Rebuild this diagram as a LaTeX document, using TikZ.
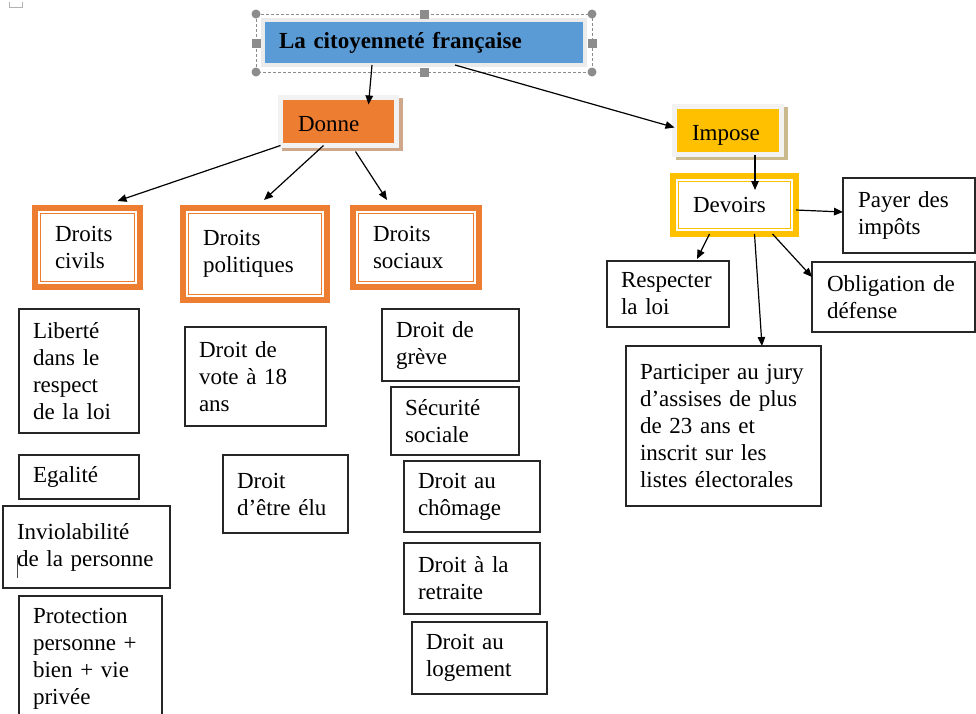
\documentclass[tikz,border=0pt]{standalone}
\usepackage{fontspec}
\setmainfont{Liberation Serif}
\usetikzlibrary{arrows.meta}
\definecolor{titleblue}{HTML}{5B9BD5}
\definecolor{titleframe}{HTML}{EBEBEB}
\definecolor{framegray}{HTML}{F2F2F2}
\definecolor{rightsorange}{HTML}{ED7D31}
\definecolor{dutygold}{HTML}{FFC000}
\definecolor{donneshadow}{HTML}{CFA88C}
\definecolor{imposeshadow}{HTML}{C9B98D}
\definecolor{handlegray}{HTML}{8C8C8C}
\tikzset{
    >={Triangle[length=9pt,width=7.5pt]},
    every node/.style={font=\fontsize{23pt}{27pt}\selectfont, anchor=north west, align=left, outer sep=0pt, inner ysep=0pt},
    plainbox/.style={draw=black!85, line width=1.3pt, fill=white, inner xsep=14pt},
    rightsbox/.style={draw=#1, line width=6.5pt, fill=white, inner xsep=20pt,
            path picture={
                    \draw[#1, line width=1.2pt] ([shift={(5.5pt,-5.5pt)}]path picture bounding box.north west)
                    rectangle ([shift={(-5.5pt,5.5pt)}]path picture bounding box.south east);
                }
        },
    verbbox/.style 2 args={fill=#1, draw=framegray, line width=5pt, inner xsep=17.5pt,
            text height=20pt, text depth=0pt,
            preaction={draw=#2, fill=#2, line width=5pt, transform canvas={shift={(3.5pt,-3pt)}}}
        },
    titlebox/.style={fill=titleblue, draw=titleframe, line width=4pt, inner xsep=16pt,
            font=\fontsize{23pt}{27pt}\selectfont\bfseries},
    link/.style={->, line width=1.2pt},
    selline/.style={draw=handlegray, line width=0.8pt, dash pattern=on 3pt off 2pt},
    handle/.style={fill=handlegray}
}

\begin{document}
\begin{tikzpicture}[x=1pt, y=-1pt]
    \clip (0,0) rectangle (976,713);
    %title with its selection frame
    \draw[selline] (256,14) rectangle (592,72);
    \node[titlebox, text width=290pt, minimum height=45pt] (titre) at (263,20) {La citoyenneté française};
    \foreach \p in {(256,14),(592,14),(256,72),(592,72)}
        \fill[handle] \p circle (4.5pt);
    \foreach \p in {(424,14),(424,72),(256,43),(592,43)}
        \fill[handle] \p ++(-4.5,-4.5) rectangle ++(9,9);
    %verbs
    \node[verbbox={rightsorange}{donneshadow}, text width=81pt, minimum height=48pt] (donne) at (280.5,97.5) {Donne};
    \node[verbbox={dutygold}{imposeshadow}, text width=72pt, minimum height=48pt] (impose) at (674.5,106.5) {Impose};
    %kinds of rights
    \node[rightsbox=rightsorange, text width=65pt, minimum height=79pt] (civils) at (35,208) {Droits\\civils};
    \node[rightsbox=rightsorange, text width=104pt, minimum height=92pt] (politiques) at (183,208) {Droits\\politiques};
    \node[rightsbox=rightsorange, text width=86pt, minimum height=79pt] (sociaux) at (353,208) {Droits\\sociaux};
    \node[rightsbox=dutygold, text width=83pt, minimum height=58pt] (devoirs) at (673,176) {Devoirs};
    %civil rights
    \node[plainbox, text width=92pt, minimum height=124pt] (liberte) at (19,309) {Liberté\\dans le\\respect\\de la loi};
    \node[plainbox, text width=92pt, minimum height=44pt] (egalite) at (19,455) {Egalité};
    \node[plainbox, text width=139pt, minimum height=82pt] (inviolabilite) at (3,506) {Inviolabilité\\de la personne};
    \node[plainbox, text width=115pt, minimum height=125pt] (protection) at (19,596) {Protection\\personne +\\bien + vie\\privée};
    %political rights
    \node[plainbox, text width=113pt, minimum height=99pt] (vote) at (185,327) {Droit de\\vote à 18\\ans};
    \node[plainbox, text width=97pt, minimum height=78pt] (elu) at (223,455) {Droit\\d’être élu};
    %social rights
    \node[plainbox, text width=109pt, minimum height=72pt] (greve) at (382,309) {Droit de\\grève};
    \node[plainbox, text width=100pt, minimum height=68pt] (securite) at (391,387) {Sécurité\\sociale};
    \node[plainbox, text width=108pt, minimum height=71pt] (chomage) at (404,461) {Droit au\\chômage};
    \node[plainbox, text width=108pt, minimum height=71pt] (retraite) at (404,543) {Droit à la\\retraite};
    \node[plainbox, text width=107pt, minimum height=72pt] (logement) at (412,622) {Droit au\\logement};
    %duties
    \node[plainbox, inner xsep=15pt, text width=102pt, minimum height=75pt] (impots) at (843,178) {Payer des\\impôts};
    \node[plainbox, text width=94pt, minimum height=66pt] (loi) at (607,261) {Respecter\\la loi};
    \node[plainbox, inner xsep=15pt, text width=133pt, minimum height=70pt] (defense) at (812,262) {Obligation de\\défense};
    \node[plainbox, text width=167pt, minimum height=160pt] (jury) at (626,346) {Participer au jury\\d’assises de plus\\de 23 ans et\\inscrit sur les\\listes électorales};
    %arrows
    \draw[link] ([xshift=-52pt]titre.south) -- ([xshift=30pt,yshift=-7pt]donne.north);
    \draw[link] ([xshift=31pt]titre.south) -- ([yshift=3pt]impose.west);
    \draw[link] (donne.south west) -- ([xshift=30pt,yshift=7pt]civils.north);
    \draw[link] ([xshift=-15pt]donne.south) -- ([xshift=9pt,yshift=8pt]politiques.north);
    \draw[link] ([xshift=17pt,yshift=-6pt]donne.south) -- ([xshift=-29pt,yshift=8pt]sociaux.north);
    \draw[link] ([xshift=27pt]impose.south) -- ([xshift=20.5pt,yshift=-14pt]devoirs.north);
    \draw[link] ([yshift=-5pt]devoirs.east) -- ([yshift=3.5pt]impots.west);
    \draw[link] ([xshift=-25pt]devoirs.south) -- ([xshift=29pt,yshift=2pt]loi.north);
    \draw[link] ([xshift=20pt]devoirs.south) -- ([xshift=38.5pt]jury.north);
    \draw[link] ([xshift=38pt]devoirs.south) -- ([yshift=-15pt]defense.north west);
    %paragraph mark and text cursor
    \draw[gray!60, line width=1pt] (9,2) -- (9,7) -- (22,7) -- (22,2);
    \draw[black!70, line width=0.8pt] (17,555) -- (17,578);
\end{tikzpicture}
\end{document}
